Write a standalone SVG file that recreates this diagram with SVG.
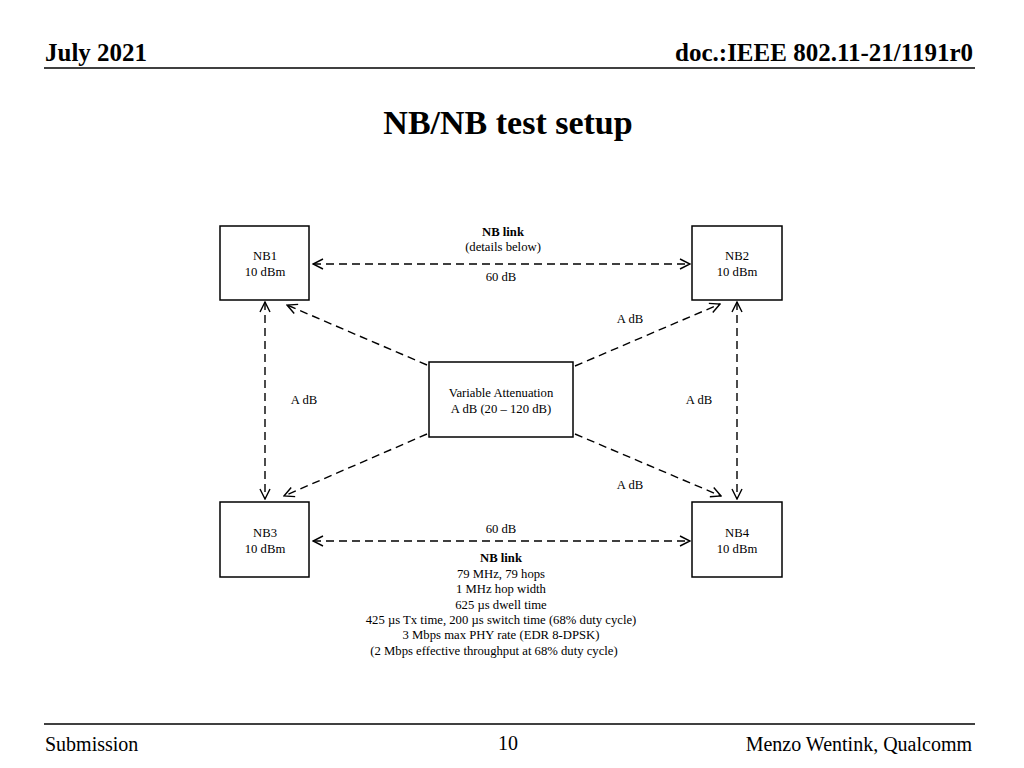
<svg xmlns="http://www.w3.org/2000/svg" width="1024" height="768" viewBox="0 0 1024 768">
<defs>
<style>
.t{font-family:"Liberation Serif","Times New Roman",serif;font-size:12.7px;fill:#000;text-anchor:middle}
.b{font-weight:bold}
.box{fill:#fff;stroke:#000;stroke-width:1.5}
.c{fill:none;stroke:#000;stroke-width:1.4;stroke-dasharray:8,5}
.hd{font-family:"Liberation Serif","Times New Roman",serif;font-weight:bold;font-size:25px;fill:#000}
.ft{font-family:"Liberation Serif","Times New Roman",serif;font-size:20px;fill:#000}
</style>
<marker id="ah" viewBox="0 0 12 12" refX="11" refY="6" markerWidth="12" markerHeight="12" markerUnits="userSpaceOnUse" orient="auto-start-reverse">
<path d="M1,1 L11,6 L1,11" fill="none" stroke="#000" stroke-width="1.4"/>
</marker>
</defs>
<rect width="1024" height="768" fill="#fff"/>
<g id="header">
<text class="hd" x="45" y="61">July 2021</text>
<text class="hd" x="973" y="61" text-anchor="end">doc.:IEEE 802.11-21/1191r0</text>
<line x1="44" y1="68" x2="975" y2="68" stroke="#000" stroke-width="1.5"/>
<text x="508" y="134" font-family="Liberation Serif,serif" font-weight="bold" font-size="34" text-anchor="middle">NB/NB test setup</text>
</g>
<g id="connectors">
<line class="c" x1="313" y1="264" x2="690" y2="264" marker-start="url(#ah)" marker-end="url(#ah)"/>
<line class="c" x1="313" y1="541" x2="690" y2="541" marker-start="url(#ah)" marker-end="url(#ah)"/>
<line class="c" x1="265" y1="302" x2="265" y2="499" marker-start="url(#ah)" marker-end="url(#ah)"/>
<line class="c" x1="737" y1="302" x2="737" y2="499" marker-start="url(#ah)" marker-end="url(#ah)"/>
<line class="c" x1="427" y1="365" x2="287" y2="305" marker-end="url(#ah)"/>
<line class="c" x1="575" y1="366" x2="720" y2="304" marker-end="url(#ah)"/>
<line class="c" x1="427" y1="434" x2="284" y2="496" marker-end="url(#ah)"/>
<line class="c" x1="575" y1="434" x2="721" y2="496" marker-end="url(#ah)"/>
</g>
<g id="labels">
<text class="t b" x="503" y="236">NB link</text>
<text class="t" x="503" y="251">(details below)</text>
<text class="t" x="501" y="281">60 dB</text>
<text class="t" x="630" y="323">A dB</text>
<text class="t" x="304" y="404">A dB</text>
<text class="t" x="699" y="404">A dB</text>
<text class="t" x="630" y="489">A dB</text>
<text class="t" x="501" y="533">60 dB</text>
<text class="t b" x="501" y="562">NB link</text>
<text class="t" x="501" y="578">79 MHz, 79 hops</text>
<text class="t" x="501" y="593">1 MHz hop width</text>
<text class="t" x="501" y="609">625 µs dwell time</text>
<text class="t" x="501" y="624">425 µs Tx time, 200 µs switch time (68% duty cycle)</text>
<text class="t" x="501" y="639">3 Mbps max PHY rate (EDR 8-DPSK)</text>
<text class="t" x="494" y="655">(2 Mbps effective throughput at 68% duty cycle)</text>
</g>
<g id="NB1">
<rect class="box" x="220" y="226" width="89" height="74"/>
<text class="t" x="265" y="260">NB1</text>
<text class="t" x="265" y="276">10 dBm</text>
</g>
<g id="NB2">
<rect class="box" x="692" y="226" width="90" height="74"/>
<text class="t" x="737" y="260">NB2</text>
<text class="t" x="737" y="276">10 dBm</text>
</g>
<g id="NB3">
<rect class="box" x="220" y="502" width="89" height="75"/>
<text class="t" x="265" y="537">NB3</text>
<text class="t" x="265" y="553">10 dBm</text>
</g>
<g id="NB4">
<rect class="box" x="692" y="502" width="90" height="75"/>
<text class="t" x="737" y="537">NB4</text>
<text class="t" x="737" y="553">10 dBm</text>
</g>
<g id="attenuator">
<rect class="box" x="429" y="362" width="144" height="75"/>
<text class="t" x="501" y="397">Variable Attenuation</text>
<text class="t" x="501" y="413">A dB (20 – 120 dB)</text>
</g>
<g id="footer">
<line x1="44" y1="724" x2="975" y2="724" stroke="#000" stroke-width="1.5"/>
<text class="ft" x="45" y="751">Submission</text>
<text class="ft" x="508" y="750" text-anchor="middle">10</text>
<text class="ft" x="972" y="751" text-anchor="end">Menzo Wentink, Qualcomm</text>
</g>
</svg>
